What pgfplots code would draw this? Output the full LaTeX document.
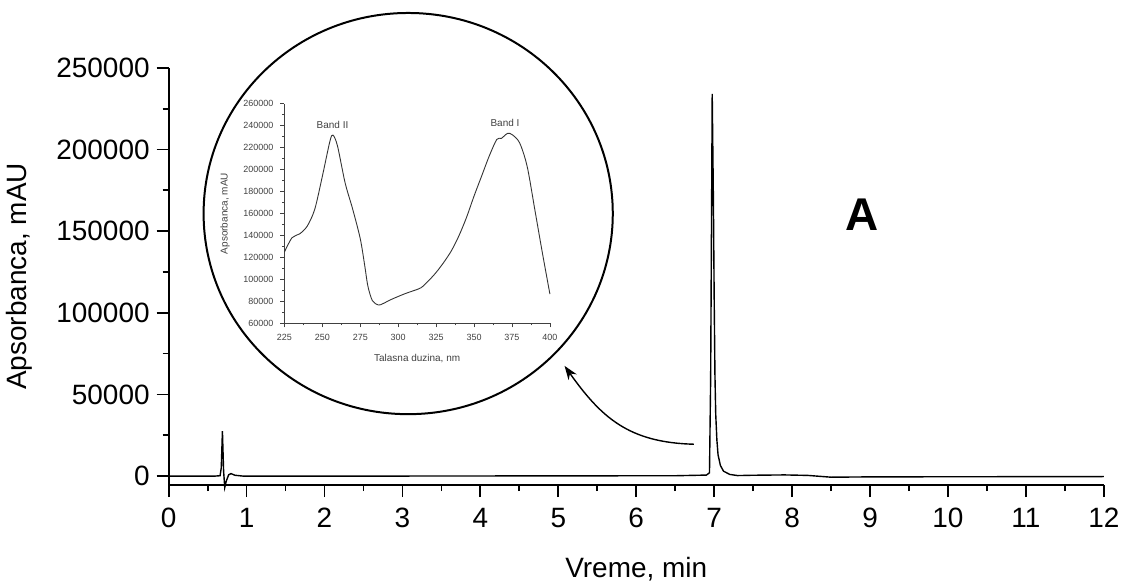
\documentclass[border=0pt]{standalone}
\usepackage{fontspec}
\setmainfont{Liberation Sans}
\usepackage{pgfplots}
\pgfplotsset{compat=1.18}
\usetikzlibrary{calc,arrows.meta}
\begin{document}
\begin{tikzpicture}
  % chromatogram
  \begin{axis}[
      name=main,
      scale only axis,
      width=468.5pt, height=209pt,
      xmin=0, xmax=12, ymin=-5500, ymax=250000,
      axis lines*=left,
      axis line style={line width=1pt},
      xtick={0,1,...,12},
      ytick={0,50000,100000,150000,200000,250000},
      minor x tick num=1, minor y tick num=1,
      tick align=outside,
      major tick length=6pt, minor tick length=3pt,
      tick style={line width=0.9pt, black},
      scaled y ticks=false,
      /pgf/number format/assume math mode=true,
      yticklabel style={/pgf/number format/fixed, /pgf/number format/1000 sep={}},
      xticklabel style={yshift=-2pt},
      ticklabel style={font=\fontsize{14}{16}\selectfont},
      label style={font=\fontsize{14}{16}\selectfont},
      xlabel={Vreme, min},
      ylabel={Apsorbanca, mAU},
      xlabel style={yshift=-8pt},
      ylabel style={yshift=5pt},
      clip=false,
    ]
    \addplot[black, line width=0.7pt] coordinates {
      (0,0) (0.6,0) (0.66,200) (0.675,5000) (0.69,27500) (0.705,3000)
      (0.72,-7000) (0.74,-3000) (0.77,800) (0.8,1500) (0.85,500) (0.95,0)
      (3,0) (6.5,200) (6.9,600) (6.94,2000) (6.955,60000) (6.975,234000)
      (6.99,170000) (7.0,110000) (7.01,62000) (7.02,38000) (7.035,22000)
      (7.05,13000) (7.08,6500) (7.12,3000) (7.2,1000) (7.3,300)
      (7.5,500) (7.9,700) (8.2,400) (8.5,-700) (9,-500) (12,-300)
    };
    \draw[-{Stealth[length=7pt,width=5pt]}, line width=0.7pt]
      (axis cs:6.74,19500) .. controls (axis cs:5.9,20500) and (axis cs:5.55,36000)
      .. (axis cs:5.08,67500);
    \node[font=\bfseries\fontsize{23}{23}\selectfont] at (axis cs:8.9,160000) {A};
  \end{axis}
  % UV spectrum inset
  \begin{axis}[
      at={($(main.south west)+(58pt,81pt)$)}, anchor=south west,
      scale only axis,
      width=133pt, height=110pt,
      xmin=225, xmax=400, ymin=60000, ymax=260000,
      axis lines*=left,
      axis line style={line width=0.4pt, black!75},
      xtick={225,250,...,400},
      ytick={60000,80000,...,260000},
      minor x tick num=1, minor y tick num=1,
      tick align=outside,
      major tick length=2pt, minor tick length=1pt,
      tick style={line width=0.3pt, black!75},
      scaled y ticks=false,
      /pgf/number format/assume math mode=true,
      yticklabel style={/pgf/number format/fixed, /pgf/number format/1000 sep={}},
      ticklabel style={font=\fontsize{4.5}{5}\selectfont, text=black!75},
      label style={font=\fontsize{5}{6}\selectfont, text=black!75},
      xlabel={Talasna duzina, nm},
      ylabel={Apsorbanca, mAU},
      clip=false,
    ]
    \addplot[black!80, line width=0.45pt, smooth] coordinates {
      (225,125000) (230,138000) (235,141500) (240,148500) (245,164000)
      (250,194000) (255,226000) (257,231500) (260,221500) (265,188000)
      (270,164000) (275,137000) (278,112000) (280,94000) (283,80600)
      (287,76700) (290,78000) (295,81500) (300,84500) (305,87300)
      (310,89700) (315,92400) (320,98800) (325,106400) (330,115500)
      (335,126000) (340,139700) (345,156400) (350,176000) (355,194200)
      (360,212400) (365,227600) (368,228500) (372,233000) (375,232000)
      (380,224500) (385,203000) (390,164000) (395,124500) (400,86700)
    };
    \node[font=\fontsize{5}{6}\selectfont, text=black!75] at (axis cs:256.7,240600) {Band II};
    \node[font=\fontsize{5}{6}\selectfont, text=black!75] at (axis cs:370.4,242700) {Band I};
  \end{axis}
  \draw[line width=1pt] ($(main.south west)+(120pt,136pt)$) ellipse[x radius=102.5pt, y radius=100.5pt];
  % blank margin above the circle, as in the reference
  \path ($(main.south west)+(120pt,243pt)$);
\end{tikzpicture}
\end{document}
